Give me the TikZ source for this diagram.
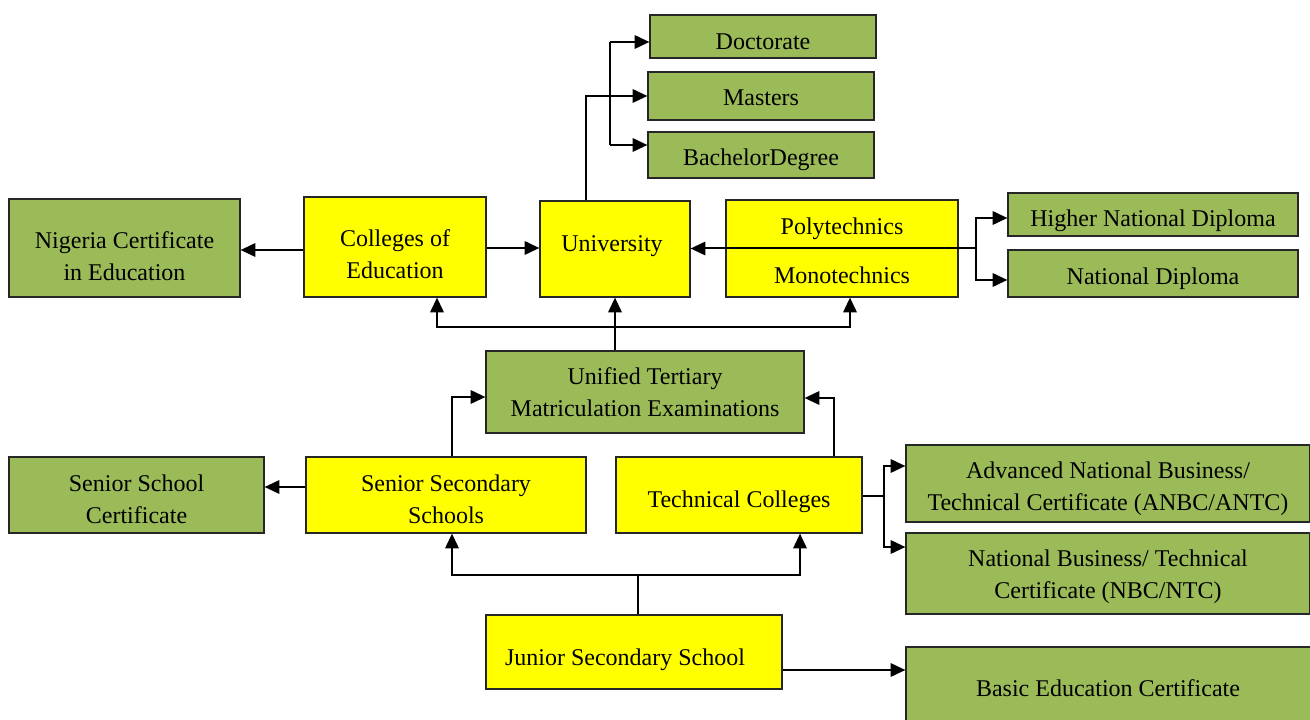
\documentclass[tikz,border=0pt]{standalone}
\usepackage{fontspec}
\setmainfont{Liberation Serif}
\usetikzlibrary{arrows.meta,calc}
\definecolor{boxgreen}{HTML}{9BBB59}
\definecolor{boxyellow}{HTML}{FFFF00}
\begin{document}
\begin{tikzpicture}[x=0.75pt,y=-0.75pt,
  every node/.style={font=\fontsize{18}{24}\selectfont},
  sz/.style 2 args={minimum width=#1*0.75pt, minimum height=#2*0.75pt},
  gbox/.style={draw=black!85, line width=0.9pt, fill=boxgreen, inner sep=0pt},
  ybox/.style={draw=black!85, line width=0.9pt, fill=boxyellow, inner sep=0pt},
  plain/.style={inner sep=0pt, align=center},
  conn/.style={line width=1.5pt, draw=black},
  arr/.style={conn, -{Triangle[length=11pt,width=10pt]}}]
\clip (0,0) rectangle (1310,720);
\fill[white] (0,0) rectangle (1310,720);

% top right degrees
\node[gbox, sz={226}{43}] (doc)  at (763,36.5) {};
\node[plain] (doct) at ($(doc)+(0,5)$) {Doctorate};
\node[gbox, sz={226}{48}] (mas)  at (761,96) {};
\node[plain] (mast) at ($(mas)+(0,2)$) {Masters};
\node[gbox, sz={226}{46}] (bach) at (761,155) {};
\node[plain] (bacht) at ($(bach)+(0,5)$) {BachelorDegree};

% tertiary row
\node[gbox, sz={231}{98}] (nce)  at (124.5,248) {};
\node[plain] (ncet) at ($(nce)+(0,8)$) {Nigeria Certificate\\in Education};
\node[ybox, sz={182}{100}] (coe) at (395,247) {};
\node[plain] (coet) at ($(coe)+(0,7)$) {Colleges of\\Education};
\node[ybox, sz={150}{96}] (univ) at (615,249) {};
\node[plain] (univt) at ($(univ)+(-3,-3)$) {University};
\node[ybox, sz={232}{97}] (poly) at (842,248.5) {};
\node[plain] (polyt) at (842,229) {Polytechnics};
\node[plain] (monot) at (842,275) {Monotechnics};
\draw[conn] (poly.west) -- (poly.east);
\node[gbox, sz={290}{43}] (hnd) at (1153,214.5) {};
\node[plain] (hndt) at ($(hnd)+(0,6)$) {Higher National Diploma};
\node[gbox, sz={290}{47}] (nd)  at (1153,273.5) {};
\node[plain] (ndt) at ($(nd)+(0,5)$) {National Diploma};

% UTME
\node[gbox, sz={318}{82}] (utme) at (645,392) {};
\node[plain] (utmet) at (645,392) {Unified Tertiary\\Matriculation Examinations};

% senior secondary row
\node[gbox, sz={255}{76}] (ssc) at (136.5,495) {};
\node[plain] (ssct) at ($(ssc)+(0,4)$) {Senior School\\Certificate};
\node[ybox, sz={280}{76}] (sss) at (446,495) {};
\node[plain] (ssst) at ($(sss)+(0,4)$) {Senior Secondary\\Schools};
\node[ybox, sz={246}{76}] (tc)  at (739,495) {};
\node[plain] (tct) at ($(tc)+(0,7)$) {Technical Colleges};
\node[gbox, sz={404}{77}] (anbc) at (1108,483.5) {};
\node[plain] (anbct) at ($(anbc)+(0,5)$) {Advanced National Business/\\Technical Certificate (ANBC/ANTC)};
\node[gbox, sz={404}{81}] (nbc)  at (1108,573.5) {};
\node[plain] (nbct) at ($(nbc)+(0,3)$) {National Business/ Technical\\Certificate (NBC/NTC)};

% junior secondary
\node[ybox, sz={296}{74}] (jss) at (634,652) {};
\node[plain] (jsst) at (625,660) {Junior Secondary School};
\node[gbox, sz={408}{82}] (bec) at (1110,688) {};
\node[plain] (bect) at (1108,688) {Basic Education Certificate};

% connectors: university to degrees
\draw[arr] ($(univ.north)+(-29,0)$) |- (mas.west);
\coordinate (dtop) at ($(doc.west)+(-39,5.5)$);
\coordinate (dbot) at ($(bach.west)+(-37,-10)$);
\draw[conn] (dtop) -- (dbot);
\draw[arr] (dtop) -- ($(doc.west)+(0,5.5)$);
\draw[arr] (dbot) -- ($(bach.west)+(0,-10)$);

% poly to university and diplomas
\draw[arr] (poly.west) -- (poly.west -| univ.east);
\coordinate (pb) at (976,248.5);
\draw[conn] (poly.east) -- (pb);
\draw[arr] (pb) |- ($(hnd.west)+(0,3.5)$);
\draw[arr] (pb) |- ($(nd.west)+(0,6.5)$);

% colleges of education
\draw[arr] ($(coe.west)+(0,3)$) -- ($(coe.west -| nce.east)+(0,3)$);
\draw[arr] ($(coe.east)+(0,1)$) -- ($(coe.east -| univ.west)+(0,1)$);

% UTME up to tertiary
\coordinate (tj) at (615,327);
\draw[arr] (utme.north -| univ.south) -- (univ.south);
\draw[arr] (tj) -| ($(coe.south)+(42,0)$);
\draw[arr] (tj) -| ($(poly.south)+(8,0)$);

% senior secondary
\draw[arr] ($(sss.west)+(0,-8)$) -- ($(sss.west -| ssc.east)+(0,-8)$);
\draw[arr] ($(sss.north)+(6,0)$) |- ($(utme.west)+(0,5)$);
\draw[arr] ($(tc.north)+(95,0)$) |- ($(utme.east)+(0,6)$);

% technical colleges to certificates
\coordinate (tb) at (884,496);
\draw[conn] ($(tc.east)+(0,1)$) -- (tb);
\draw[arr] (tb) |- ($(anbc.west)+(0,-17.5)$);
\draw[arr] (tb) |- ($(nbc.west)+(0,-26.5)$);

% junior secondary
\coordinate (jb) at (638,575);
\draw[conn] (jss.north -| jb) -- (jb);
\draw[arr] (jb) -| ($(sss.south)+(6,0)$);
\draw[arr] (jb) -| ($(tc.south)+(61,0)$);
\draw[arr] ($(jss.east)+(0,18)$) -- ($(bec.west)+(0,-18)$);
\end{tikzpicture}
\end{document}
